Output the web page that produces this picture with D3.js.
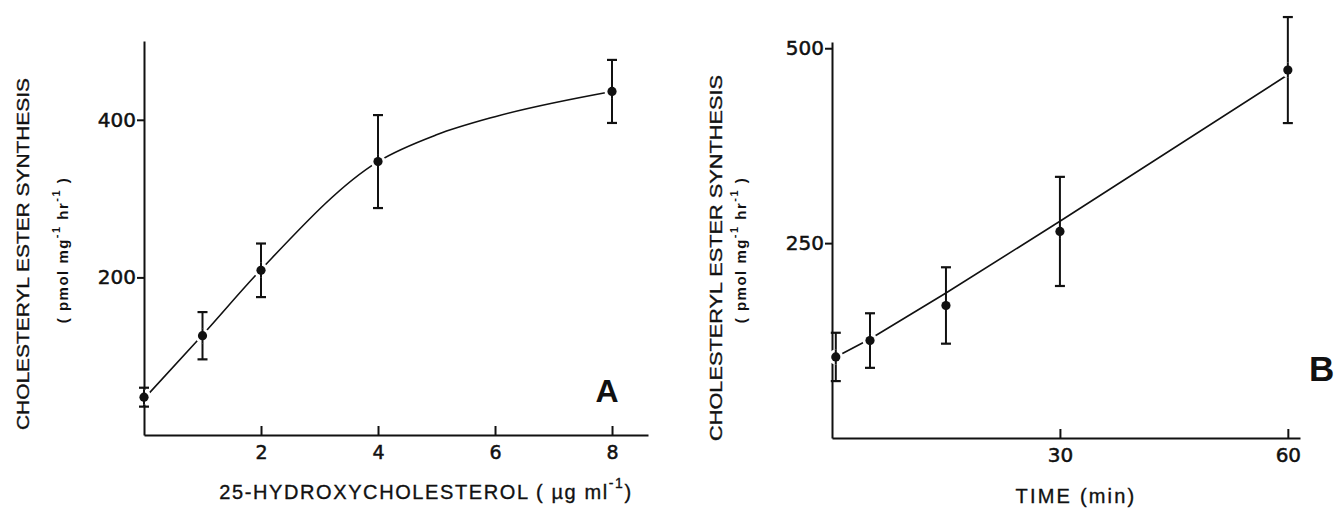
<!DOCTYPE html>
<html>
<head>
<meta charset="utf-8">
<script src="https://cdn.jsdelivr.net/npm/d3@7"></script>
<style>
  body { margin: 0; background: #fff; }
  svg { display: block; }
  text { font-family: "Liberation Sans", Arial, sans-serif; fill: #111; }
  .axis path, .axis line { stroke: #111; stroke-width: 2; }
  .axis text { font-family: "DejaVu Sans", sans-serif; fill: #111; stroke: #111; stroke-width: 0.5; }
  .heavy { stroke: #111; stroke-width: 0.35; }
</style>
</head>
<body>
<div id="container"></div>
<script>
const width = 1337;
const height = 509;

// panel A : dose response to 25-hydroxycholesterol
const doseA = [0, 1, 2, 4, 8];
const synthA = [48, 126, 209, 347, 436];
const errA = [12, 30, 34, 59, 40];
// smooth curve drawn by hand through the points
const curveDoseA = [0, 1, 2, 4, 5, 6, 8];
const curveSynthA = [46, 127, 210, 347, 381, 404, 436];
const xTicksA = [2, 4, 6, 8];
const yTicksA = [200, 400];

// panel B : time course
const timeB = [0.5, 5, 15, 30, 60];
const synthB = [104, 125, 170, 265, 472];
const errB = [31, 35, 49, 70, 68];
const lineTimeB = [0.5, 5, 15, 30, 60];
const lineSynthB = [104, 127, 186, 278, 466];
const xTicksB = [30, 60];
const yTicksB = [250, 500];

let svg = d3.select("#container")
	.append("svg")
	.attr("width", width)
	.attr("height", height);

function drawPanel(p) {
	const x = d3.scaleLinear().domain(p.xDomain).range(p.xRange);
	const y = d3.scaleLinear().domain(p.yDomain).range(p.yRange);
	const g = svg.append("g");

	// axes
	g.append("g")
		.attr("class", "axis")
		.attr("transform", "translate(0," + p.yRange[0] + ")")
		.call(d3.axisBottom(x).tickValues(p.xTicks).tickSizeInner(-9).tickSizeOuter(0).tickPadding(p.xPad))
		.call(a => a.selectAll("text").attr("font-size", p.xTickFont));

	g.append("g")
		.attr("class", "axis")
		.attr("transform", "translate(" + p.xRange[0] + ",0)")
		.call(d3.axisLeft(y).tickValues(p.yTicks).tickSizeInner(7).tickSizeOuter(0).tickPadding(1))
		.call(a => a.selectAll("text").attr("font-size", 20));

	// fitted line
	const lineData = p.lineX.map((v, i) => [v, p.lineY[i]]);
	g.append("path")
		.datum(lineData)
		.attr("fill", "none")
		.attr("stroke", "#111")
		.attr("stroke-width", 1.6)
		.attr("d", d3.line().x(d => x(d[0])).y(d => y(d[1])).curve(p.curve));

	const pts = p.xs.map((v, i) => ({x: v, y: p.ys[i], e: p.errs[i]}));

	// error bars
	let bars = g.selectAll(".err").data(pts).enter().append("g").attr("class", "err");
	bars.append("line")
		.attr("x1", d => x(d.x)).attr("x2", d => x(d.x))
		.attr("y1", d => y(d.y - d.e)).attr("y2", d => y(d.y + d.e))
		.attr("stroke", "#111").attr("stroke-width", 2);
	[-1, 1].forEach(s => {
		bars.append("line")
			.attr("x1", d => x(d.x) - 5).attr("x2", d => x(d.x) + 5)
			.attr("y1", d => y(d.y + s * d.e)).attr("y2", d => y(d.y + s * d.e))
			.attr("stroke", "#111").attr("stroke-width", 2.2);
	});

	// white halo so the line stops short of each point
	g.selectAll(".halo").data(pts).enter().append("circle")
		.attr("cx", d => x(d.x)).attr("cy", d => y(d.y))
		.attr("r", 7.5).attr("fill", "#fff");
	g.selectAll(".halo-bar").data(pts).enter().append("line")
		.attr("x1", d => x(d.x)).attr("x2", d => x(d.x))
		.attr("y1", d => y(d.y) - 7.5).attr("y2", d => y(d.y) + 7.5)
		.attr("stroke", "#111").attr("stroke-width", 2);
	g.selectAll(".dot").data(pts).enter().append("circle")
		.attr("cx", d => x(d.x)).attr("cy", d => y(d.y))
		.attr("r", 4.6).attr("fill", "#111");

	return {g: g, x: x, y: y};
}

const A = drawPanel({
	xDomain: [0, 8.615], xRange: [144, 648],
	yDomain: [0, 500], yRange: [435, 41],
	xTicks: xTicksA, yTicks: yTicksA, xTickFont: 19, xPad: 11,
	xs: doseA, ys: synthA, errs: errA,
	lineX: curveDoseA, lineY: curveSynthA, curve: d3.curveMonotoneX
});

const B = drawPanel({
	xDomain: [0, 61.6], xRange: [832, 1300],
	yDomain: [0, 508], yRange: [438, 42],
	xTicks: xTicksB, yTicks: yTicksB, xTickFont: 20, xPad: 10,
	xs: timeB, ys: synthB, errs: errB,
	lineX: lineTimeB, lineY: lineSynthB, curve: d3.curveLinear
});

// y titles (rotated, two lines)
function yTitle(cx1, cy1, len1, cx2, cy2) {
	svg.append("text")
		.attr("class", "heavy")
		.attr("transform", "translate(" + cx1 + "," + cy1 + ") rotate(-90)")
		.attr("text-anchor", "middle")
		.attr("font-size", 17)
		.attr("textLength", len1)
		.attr("lengthAdjust", "spacingAndGlyphs")
		.text("CHOLESTERYL ESTER SYNTHESIS");

	let t = svg.append("text")
		.attr("transform", "translate(" + cx2 + "," + cy2 + ") rotate(-90)")
		.attr("text-anchor", "middle")
		.attr("font-size", 15)
		.attr("font-weight", "bold")
		.attr("letter-spacing", 1.5);
	t.append("tspan").text("( pmol  mg");
	t.append("tspan").attr("dy", -8).attr("font-size", 11).text("-1");
	t.append("tspan").attr("dy", 8).text("  hr");
	t.append("tspan").attr("dy", -8).attr("font-size", 11).text("-1");
	t.append("tspan").attr("dy", 8).text(" )");
}
yTitle(29, 254, 352, 68, 250);
yTitle(722, 258, 366, 746, 250);

// x titles
let xt = svg.append("text")
	.attr("class", "heavy")
	.attr("x", 426).attr("y", 499)
	.attr("text-anchor", "middle")
	.attr("font-size", 20)
	.attr("letter-spacing", 1.6);
xt.append("tspan").text("25-HYDROXYCHOLESTEROL ( µg  ml");
xt.append("tspan").attr("dy", -11).attr("font-size", 14).text("-1");
xt.append("tspan").attr("dy", 11).text(")");

svg.append("text")
	.attr("class", "heavy")
	.attr("x", 1076).attr("y", 503)
	.attr("text-anchor", "middle")
	.attr("font-size", 20)
	.attr("letter-spacing", 2.2)
	.text("TIME (min)");

// panel letters
svg.append("text")
	.attr("x", 607).attr("y", 402)
	.attr("text-anchor", "middle")
	.attr("font-size", 32)
	.attr("font-weight", "bold")
	.text("A");

svg.append("text")
	.attr("x", 1309).attr("y", 381)
	.attr("font-size", 35)
	.attr("font-weight", "bold")
	.text("B");
</script>
</body>
</html>
